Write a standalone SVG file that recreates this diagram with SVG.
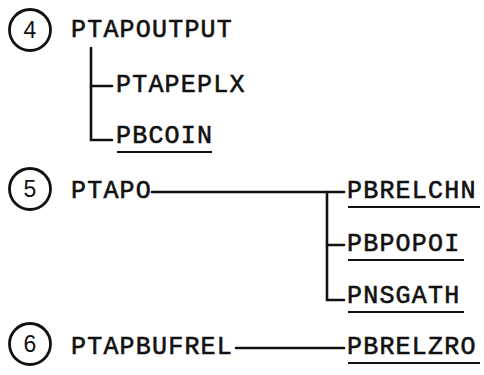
<svg xmlns="http://www.w3.org/2000/svg" width="484" height="375" viewBox="0 0 484 375">
<style>
.t{font-family:"Liberation Mono","Courier New",monospace;font-size:25px;letter-spacing:1.2px;fill:#111;stroke:#111;stroke-width:0.6}
.n{font-family:"Liberation Sans",Arial,sans-serif;font-size:23px;fill:#111;text-anchor:middle}
.c{fill:none;stroke:#111;stroke-width:2.8}
.l{fill:none;stroke:#111;stroke-width:2.6;stroke-linecap:round;stroke-linejoin:miter}
.u{stroke:#111;stroke-width:2}
</style>
<rect width="484" height="375" fill="#fff"/>
<g id="num4"><circle class="c" cx="30" cy="30" r="20.5"/><text class="n" x="30" y="38">4</text></g>
<g id="num5"><circle class="c" cx="30" cy="189" r="20.5"/><text class="n" x="30" y="197">5</text></g>
<g id="num6"><circle class="c" cx="30" cy="344" r="20.5"/><text class="n" x="30" y="352">6</text></g>
<g id="PTAPOUTPUT"><text class="t" x="71" y="37">PTAPOUTPUT</text></g>
<g id="PTAPEPLX"><text class="t" x="116" y="92">PTAPEPLX</text></g>
<g id="PBCOIN"><text class="t" x="116" y="143">PBCOIN</text><line class="u" x1="117" y1="152" x2="212" y2="152"/></g>
<g id="PTAPO"><text class="t" x="71" y="198">PTAPO</text></g>
<g id="PBRELCHN"><text class="t" x="347" y="198">PBRELCHN</text><line class="u" x1="348" y1="207" x2="480" y2="207"/></g>
<g id="PBPOPOI"><text class="t" x="347" y="251">PBPOPOI</text><line class="u" x1="348" y1="260" x2="464" y2="260"/></g>
<g id="PNSGATH"><text class="t" x="347" y="303">PNSGATH</text><line class="u" x1="348" y1="312" x2="464" y2="312"/></g>
<g id="PTAPBUFREL"><text class="t" x="71" y="354">PTAPBUFREL</text></g>
<g id="PBRELZRO"><text class="t" x="347" y="354">PBRELZRO</text><line class="u" x1="348" y1="363" x2="480" y2="363"/></g>
<g id="connectors">
<path class="l" d="M91 48 V140 H112"/>
<path class="l" d="M91 86 H112"/>
<path class="l" d="M152 192 H344"/>
<path class="l" d="M327 192 V300 H344"/>
<path class="l" d="M327 245 H344"/>
<path class="l" d="M236 348 H344"/>
</g>
</svg>
